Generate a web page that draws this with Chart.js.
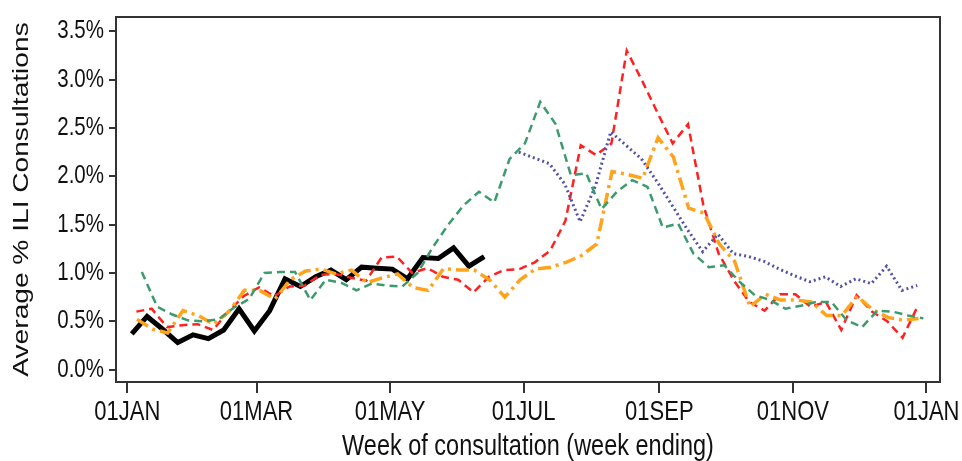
<!DOCTYPE html>
<html>
<head>
<meta charset="utf-8">
<script src="https://cdn.jsdelivr.net/npm/chart.js@4"></script>
<style>
html,body{margin:0;padding:0;background:#fff;}
#wrap{width:962px;height:461px;}
</style>
</head>
<body>
<div id="wrap"><canvas id="c" width="962" height="461"></canvas></div>
<script>
// x tick positions (day of year) and labels
const tickDays = [0, 59, 120, 181, 243, 304, 365];
const tickLabels = ["01JAN", "01MAR", "01MAY", "01JUL", "01SEP", "01NOV", "01JAN"];
const yTicks = [0, 0.5, 1.0, 1.5, 2.0, 2.5, 3.0, 3.5];

// first week-ending day (day of year) for each series
const blackFirstDay = 2;
const greenFirstDay = 6.6;
const redFirstDay = 4.1;
const orangeFirstDay = 4.4;
const blueFirstDay = 178.8;

// weekly average % ILI consultations
const blackValues = [0.37,0.55,0.42,0.28,0.36,0.32,0.41,0.63,0.40,0.61,0.94,0.86,0.96,1.03,0.93,1.06,1.05,1.04,0.94,1.16,1.15,1.26,1.07,1.17];
const greenValues = [1.01,0.65,0.57,0.51,0.50,0.52,0.64,0.73,1.00,1.01,1.01,0.72,0.93,0.90,0.82,0.89,0.87,0.86,1.00,1.27,1.50,1.70,1.84,1.73,2.18,2.34,2.77,2.54,2.01,2.03,1.66,1.84,1.96,1.89,1.47,1.51,1.20,1.06,1.08,0.91,0.77,0.72,0.63,0.66,0.70,0.70,0.51,0.44,0.61,0.60,0.56,0.53];
const redValues = [0.60,0.63,0.44,0.46,0.47,0.41,0.60,0.76,0.85,0.76,0.86,0.87,0.98,0.99,0.95,0.92,1.16,1.17,1.00,1.05,0.96,0.93,0.80,0.96,1.03,1.04,1.11,1.23,1.54,2.32,2.22,2.34,3.30,2.99,2.66,2.34,2.54,1.70,1.20,0.92,0.70,0.61,0.78,0.78,0.65,0.70,0.41,0.77,0.60,0.50,0.33,0.66];
const orangeValues = [0.52,0.42,0.38,0.61,0.56,0.47,0.60,0.82,0.82,0.73,0.93,1.02,1.04,0.99,1.03,0.90,0.95,0.99,0.85,0.82,1.045,1.03,1.03,0.93,0.75,0.93,1.04,1.06,1.11,1.18,1.30,2.05,2.02,1.98,2.40,2.20,1.67,1.62,1.30,1.12,0.65,0.78,0.72,0.72,0.70,0.56,0.56,0.76,0.62,0.54,0.51,0.53];
const blueValues = [2.25,2.19,2.13,1.92,1.53,1.90,2.46,2.32,2.18,1.95,1.70,1.45,1.22,1.40,1.20,1.17,1.12,1.04,0.97,0.91,0.96,0.86,0.94,0.89,1.07,0.82,0.87];

function weekly(firstDay, values) {
  return values.map((v, i) => ({ x: firstDay + 7 * i, y: v }));
}

const FONT = "'Liberation Sans', Arial, sans-serif";
const TEXT_STRETCH_Y = 1.25; // reference text is drawn tall and narrow

const canvas = document.getElementById('c');
const ctx2d = canvas.getContext('2d');
const origFillText = ctx2d.fillText;
ctx2d.fillText = function (t, x, y, mw) {
  const m = this.getTransform();
  const px = m.a * x + m.c * y + m.e, py = m.b * x + m.d * y + m.f;
  this.save();
  this.setTransform(1, 0, 0, 1, 0, 0);
  this.translate(px, py);
  this.scale(1, TEXT_STRETCH_Y);
  this.translate(-px, -py);
  this.transform(m.a, m.b, m.c, m.d, m.e, m.f);
  if (mw === undefined) origFillText.call(this, t, x, y);
  else origFillText.call(this, t, x, y, mw);
  this.restore();
};

const framePlugin = {
  id: 'frame',
  afterDatasetsDraw(chart) {
    const a = chart.chartArea, ctx = chart.ctx;
    ctx.save();
    ctx.strokeStyle = '#333';
    ctx.lineWidth = 2;
    ctx.strokeRect(a.left, a.top, a.right - a.left, a.bottom - a.top);
    ctx.restore();
  }
};

new Chart(canvas, {
  type: 'line',
  data: {
    datasets: [
      { label: 'green', data: weekly(greenFirstDay, greenValues), borderColor: '#3c9b6e', borderWidth: 2.5, borderDash: [8, 5], pointRadius: 0, tension: 0, fill: false },
      { label: 'blue', data: weekly(blueFirstDay, blueValues), borderColor: '#5252a8', borderWidth: 3, borderDash: [2, 3], pointRadius: 0, tension: 0, fill: false },
      { label: 'orange', data: weekly(orangeFirstDay, orangeValues), borderColor: '#ffa31a', borderWidth: 3.5, borderDash: [13, 5, 3, 5], pointRadius: 0, tension: 0, fill: false },
      { label: 'red', data: weekly(redFirstDay, redValues), borderColor: '#ff2020', borderWidth: 2.5, borderDash: [8, 5], pointRadius: 0, tension: 0, fill: false },
      { label: 'black', data: weekly(blackFirstDay, blackValues), borderColor: '#000', borderWidth: 5, pointRadius: 0, tension: 0, fill: false }
    ]
  },
  options: {
    responsive: false,
    animation: false,
    devicePixelRatio: 1,
    layout: { padding: { top: 17, right: 22, left: 0, bottom: 0 } },
    plugins: { legend: { display: false }, tooltip: { enabled: false } },
    scales: {
      x: {
        type: 'linear',
        min: -5.2,
        max: 371.2,
        afterBuildTicks: s => { s.ticks = tickDays.map(v => ({ value: v })); },
        afterFit: s => { s.height = 79; s.paddingLeft = 0; s.paddingRight = 0; },
        ticks: {
          autoSkip: false, maxRotation: 0, padding: 6,
          color: '#111', font: { family: FONT, size: 22 },
          callback: (v, i) => tickLabels[i]
        },
        grid: { display: true, drawOnChartArea: false, drawTicks: true, tickLength: 11, color: '#333', lineWidth: 2 },
        border: { display: false },
        title: { display: true, text: 'Week of consultation (week ending)', color: '#111', font: { family: FONT, size: 23.5 }, padding: { top: 0, bottom: 0 } }
      },
      y: {
        min: -0.128,
        max: 3.648,
        afterBuildTicks: s => { s.ticks = yTicks.map(v => ({ value: v })); },
        afterFit: s => { s.width = 116; s.paddingTop = 0; s.paddingBottom = 0; },
        ticks: {
          padding: 5,
          color: '#111', font: { family: FONT, size: 20.5 },
          callback: v => v.toFixed(1) + '%'
        },
        grid: { display: true, drawOnChartArea: false, drawTicks: true, tickLength: 7, color: '#333', lineWidth: 2 },
        border: { display: false },
        title: { display: true, text: 'Average % ILI Consultations', color: '#111', font: { family: FONT, size: 22.5 }, padding: { top: 8, bottom: 0 } }
      }
    }
  },
  plugins: [framePlugin]
});
</script>
</body>
</html>
